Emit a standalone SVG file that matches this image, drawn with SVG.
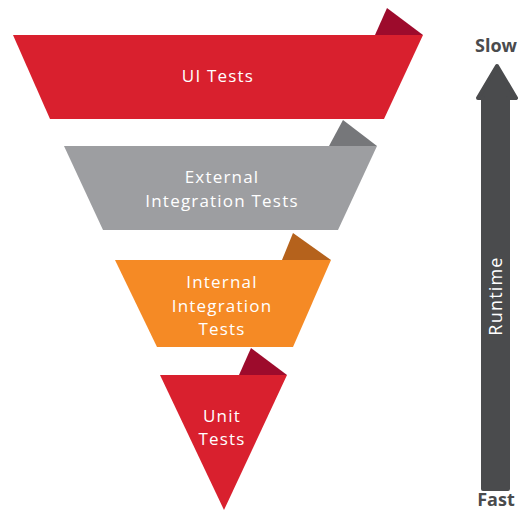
<svg xmlns="http://www.w3.org/2000/svg" width="528" height="513" viewBox="0 0 528 513">
<style>
.lbl{font-family:"Open Sans","Liberation Sans",sans-serif;font-size:17px;letter-spacing:1.2px;fill:#ffffff;text-anchor:middle}
.axis{font-family:"Open Sans","Liberation Sans",sans-serif;font-size:18px;font-weight:bold;fill:#4a4b4d;text-anchor:middle}
</style>
<rect width="528" height="513" fill="#ffffff"/>
<g id="ui-tests">
<polygon points="375,35 387,8 423,35" fill="#9d0b2c"/>
<polygon points="13,35 423,35 384,119 50,119" fill="#d9202e"/>
<text class="lbl" x="218" y="82">UI Tests</text>
</g>
<g id="external-integration-tests">
<polygon points="329,146 343,120 377,146" fill="#76777a"/>
<polygon points="64,146 377,146 338,230 103,230" fill="#9d9ea1"/>
<text class="lbl" x="222" y="183">External</text>
<text class="lbl" x="222" y="207">Integration Tests</text>
</g>
<g id="internal-integration-tests">
<polygon points="282,260 293,233 331,260" fill="#b5621c"/>
<polygon points="115,260 331,260 293,347 157,347" fill="#f58a25"/>
<text class="lbl" x="222" y="288">Internal</text>
<text class="lbl" x="222" y="311.5">Integration</text>
<text class="lbl" x="222" y="335">Tests</text>
</g>
<g id="unit-tests">
<polygon points="239,375 251,348 287,375" fill="#9d0b2c"/>
<polygon points="160,375 287,375 224,510" fill="#d9202e"/>
<text class="lbl" x="222" y="421.5">Unit</text>
<text class="lbl" x="222" y="445">Tests</text>
</g>
<g id="runtime-axis">
<polygon points="497,66 516,98 508,98 508,489 483,489 483,98 478,98" fill="#4a4b4d" stroke="#4a4b4d" stroke-width="4" stroke-linejoin="round"/>
<text class="axis" x="496" y="52">Slow</text>
<text class="axis" x="496" y="506">Fast</text>
<text class="lbl" transform="translate(502,296) rotate(-90)" x="0" y="0" style="font-size:18px">Runtime</text>
</g>
</svg>
